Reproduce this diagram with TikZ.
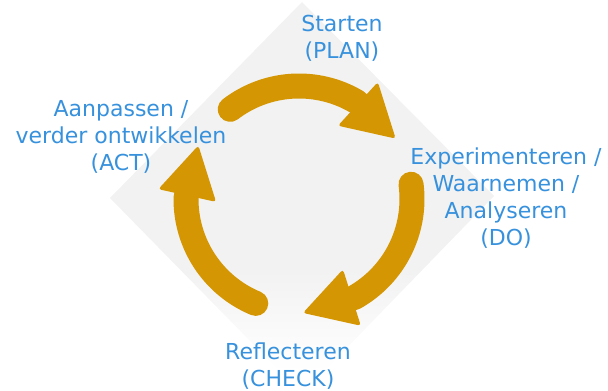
\documentclass[tikz,border=0pt]{standalone}
\usepackage{fontspec}
\setmainfont{DejaVu Sans}
\usetikzlibrary{calc}
\definecolor{gold}{RGB}{212,150,2}
\definecolor{lblue}{RGB}{55,145,220}
\definecolor{bgray}{RGB}{242,242,242}
\begin{document}
\begin{tikzpicture}[x=1pt,y=1pt,
  lbl/.style={text=lblue, font=\fontsize{22}{27}\selectfont, anchor=base, inner sep=0pt},
  shaft/.style={draw=gold, line width=25pt, line cap=round},
  head/.style={fill=gold, rounded corners=3pt}]
\useasboundingbox (0,0) rectangle (608,391);
% background diamond
\coordinate (dt) at (302,389);
\coordinate (dr) at (494,195);
\coordinate (db) at (302,-3);
\coordinate (dl) at (110,193);
\begin{scope}
  \clip (dt) -- (dr) -- (db) -- (dl) -- cycle;
  \fill[bgray] (0,120) rectangle (608,391);
  \shade[top color=bgray, bottom color=white] (0,20) rectangle (608,120);
\end{scope}
% cycle arrows
\coordinate (c) at (299,192);
\foreach \r/\n in {0/a,-120/b,-240/d}{
  \draw[shaft] ($(c)+(127.5+\r:113)$) arc[start angle=127.5+\r, end angle=59+\r, radius=113];
  \fill[head] ($(c)+(56+\r:141)$) -- ($(c)+(32+\r:114)$) -- ($(c)+(62+\r:83)$) -- cycle;
}
% labels
\node[lbl] (plan1) at (342,359) {Starten};
\node[lbl] (plan2) at (342,332) {(PLAN)};
\node[lbl] (do1) at (506,226) {Experimenteren /};
\node[lbl] (do2) at (506,199) {Waarnemen /};
\node[lbl] (do3) at (506,172) {Analyseren};
\node[lbl] (do4) at (506,145) {(DO)};
\node[lbl] (chk1) at (288,31) {Reflecteren};
\node[lbl] (chk2) at (288,4) {(CHECK)};
\node[lbl] (act1) at (121,274) {Aanpassen /};
\node[lbl] (act2) at (121,247) {verder ontwikkelen};
\node[lbl] (act3) at (121,220) {(ACT)};
\end{tikzpicture}
\end{document}
